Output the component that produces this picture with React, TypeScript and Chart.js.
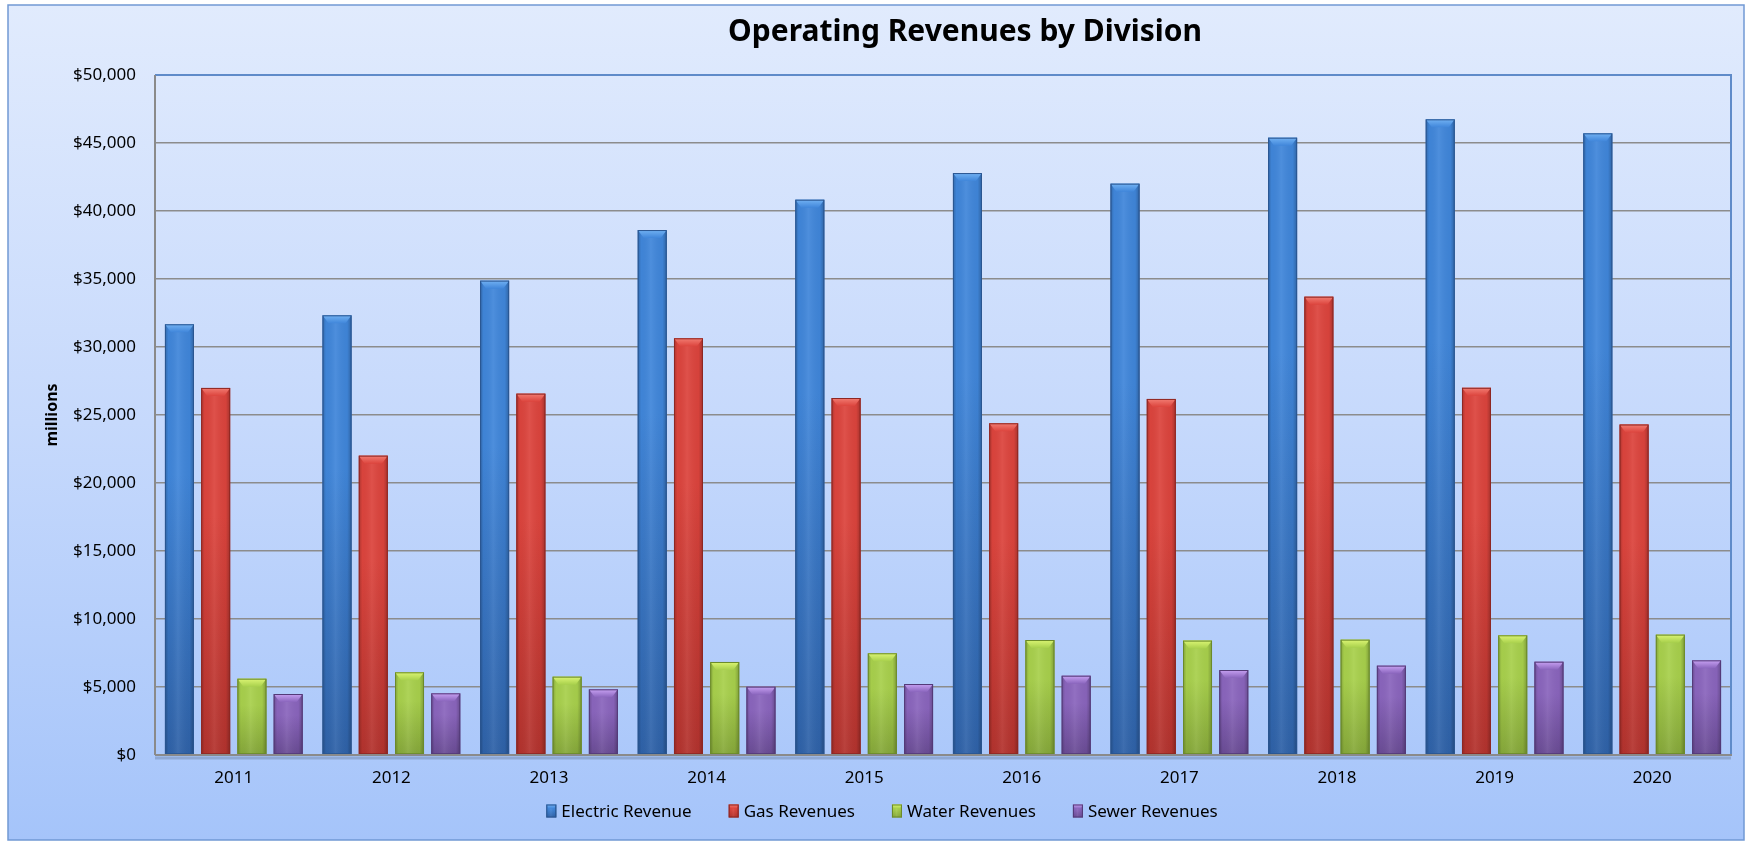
import React, { useEffect, useRef } from "react";
import { Chart, registerables } from "chart.js";

Chart.register(...registerables);

const years = ["2011", "2012", "2013", "2014", "2015", "2016", "2017", "2018", "2019", "2020"];
const electricRevenue = [31670, 32330, 34880, 38600, 40830, 42790, 42010, 45390, 46740, 45710];
const gasRevenues = [26990, 22010, 26570, 30640, 26250, 24390, 26180, 33700, 27000, 24300];
const waterRevenues = [5610, 6080, 5760, 6840, 7480, 8455, 8410, 8480, 8800, 8850];
const sewerRevenues = [4485, 4535, 4830, 5025, 5220, 5830, 6250, 6570, 6860, 6960];
const yTickValues = [0, 5000, 10000, 15000, 20000, 25000, 30000, 35000, 40000, 45000, 50000];
const seriesNames = ["Electric Revenue", "Gas Revenues", "Water Revenues", "Sewer Revenues"];

const palette = [
  { base: "#3a7bd3", top: "#4086da", bottom: "#2f62a8", bevel: "#72b2f3", edge: "#2a5590" },
  { base: "#d23d37", top: "#dc443d", bottom: "#b3332e", bevel: "#f27d73", edge: "#8e2723" },
  { base: "#9cc443", top: "#a8d04c", bottom: "#86a83a", bevel: "#dcf574", edge: "#6b8a2a" },
  { base: "#7c5aae", top: "#8a65bd", bottom: "#6a4c95", bevel: "#c8a2f3", edge: "#533a78" },
];

const FONT = '"Noto Sans", "Open Sans", sans-serif';

function drawBox(ctx: any, p: any, l: number, t: number, w: number, h: number, bvMax: number, inset: number) {
  const r = l + w;
  const b = t + h;
  const vg = ctx.createLinearGradient(0, t, 0, b);
  vg.addColorStop(0, p.top);
  vg.addColorStop(0.35, p.top);
  vg.addColorStop(1, p.bottom);
  ctx.fillStyle = vg;
  ctx.fillRect(l, t, w, h);
  const hg = ctx.createLinearGradient(l, 0, r, 0);
  hg.addColorStop(0, "rgba(0,0,0,0.22)");
  hg.addColorStop(0.12, "rgba(0,0,0,0.02)");
  hg.addColorStop(0.45, "rgba(255,255,255,0.07)");
  hg.addColorStop(0.85, "rgba(0,0,0,0.03)");
  hg.addColorStop(1, "rgba(0,0,0,0.25)");
  ctx.fillStyle = hg;
  ctx.fillRect(l, t, w, h);
  const bv = Math.min(bvMax, h / 2);
  const bg = ctx.createLinearGradient(0, t, 0, t + bv);
  bg.addColorStop(0, p.bevel);
  bg.addColorStop(1, p.top);
  ctx.fillStyle = bg;
  ctx.beginPath();
  ctx.moveTo(l, t);
  ctx.lineTo(r, t);
  ctx.lineTo(r - inset, t + bv);
  ctx.lineTo(l + inset, t + bv);
  ctx.closePath();
  ctx.fill();
  ctx.strokeStyle = p.edge;
  ctx.lineWidth = 1;
  ctx.strokeRect(l + 0.5, t + 0.5, w - 1, h - 1);
}

const decorPlugin = {
  id: "decor",
  beforeDraw(chart: any) {
    const { ctx, width, height } = chart;
    ctx.save();
    ctx.fillStyle = "#ffffff";
    ctx.fillRect(0, 0, width, height);
    const g = ctx.createLinearGradient(0, 5, 0, 840);
    g.addColorStop(0, "#e1ebfd");
    g.addColorStop(0.5, "#c6d9fc");
    g.addColorStop(1, "#a5c4fa");
    ctx.fillStyle = g;
    ctx.fillRect(8, 5, 1736, 835);
    ctx.strokeStyle = "#7199d4";
    ctx.lineWidth = 1.5;
    ctx.strokeRect(8, 5, 1736, 835);
    ctx.restore();
  },
  beforeDatasetsDraw(chart: any) {
    const { ctx, chartArea: a } = chart;
    ctx.save();
    ctx.strokeStyle = "#5f8bc9";
    ctx.lineWidth = 2;
    ctx.beginPath();
    ctx.moveTo(a.left, a.top);
    ctx.lineTo(a.right, a.top);
    ctx.lineTo(a.right, a.bottom);
    ctx.stroke();
    ctx.strokeStyle = "#8a8a8a";
    ctx.beginPath();
    ctx.moveTo(a.left, a.top);
    ctx.lineTo(a.left, a.bottom);
    ctx.stroke();
    ctx.restore();
  },
  afterDatasetsDraw(chart: any) {
    const { ctx, chartArea: a } = chart;
    ctx.save();
    chart.data.datasets.forEach((ds: any, di: number) => {
      const meta = chart.getDatasetMeta(di);
      const p = palette[di];
      meta.data.forEach((bar: any) => {
        const { x, y, base, width } = bar.getProps(["x", "y", "base", "width"], true);
        drawBox(ctx, p, x - width / 2, y, width, base - y, 8, 6);
      });
    });
    ctx.strokeStyle = "rgba(90,110,140,0.35)";
    ctx.lineWidth = 3;
    ctx.beginPath();
    ctx.moveTo(a.left, a.bottom + 3);
    ctx.lineTo(a.right, a.bottom + 3);
    ctx.stroke();
    ctx.strokeStyle = "#8a8a8a";
    ctx.lineWidth = 2;
    ctx.beginPath();
    ctx.moveTo(a.left, a.bottom);
    ctx.lineTo(a.right + 1, a.bottom);
    ctx.stroke();
    ctx.restore();
  },
  afterDraw(chart: any) {
    const { ctx, chartArea: a } = chart;
    ctx.save();
    ctx.fillStyle = "#000000";
    ctx.font = `bold 30px ${FONT}`;
    ctx.textAlign = "center";
    ctx.textBaseline = "alphabetic";
    ctx.fillText("Operating Revenues by Division", a.left + a.width * 0.514, 41);
    ctx.font = `17px ${FONT}`;
    ctx.textAlign = "left";
    ctx.textBaseline = "middle";
    const boxW = 10;
    const boxH = 13;
    const textGap = 5;
    const itemGap = 37;
    const items = chart.data.datasets.map((ds: any, i: number) => ({
      label: ds.label,
      p: palette[i],
      w: boxW + textGap + ctx.measureText(ds.label).width,
    }));
    const total = items.reduce((s: number, it: any) => s + it.w, 0) + itemGap * (items.length - 1);
    const cy = 811;
    let x = 882 - total / 2;
    items.forEach((it: any) => {
      drawBox(ctx, it.p, x, cy - boxH / 2, boxW, boxH, 4, 2);
      ctx.fillStyle = "#000000";
      ctx.fillText(it.label, x + boxW + textGap, cy + 1);
      x += it.w + itemGap;
    });
    ctx.restore();
  },
};

export default function App() {
  const canvasRef = useRef<HTMLCanvasElement | null>(null);

  useEffect(() => {
    document.body.style.margin = "0";
    const canvas = canvasRef.current;
    if (!canvas) return;
    const seriesData = [electricRevenue, gasRevenues, waterRevenues, sewerRevenues];
    const chart = new Chart(canvas, {
      type: "bar",
      data: {
        labels: years,
        datasets: seriesData.map((d, i) => ({
          label: seriesNames[i],
          data: d,
          backgroundColor: palette[i].base,
          borderColor: palette[i].edge,
          borderWidth: 1,
          categoryPercentage: 0.92,
          barPercentage: 0.8,
        })),
      },
      options: {
        responsive: false,
        animation: false,
        layout: { padding: { left: 0, right: 15, top: 75, bottom: 0 } },
        scales: {
          x: {
            grid: { display: false, drawTicks: false },
            border: { display: false },
            ticks: { color: "#000000", font: { family: FONT, size: 17 }, padding: 13 },
            afterFit: (s: any) => {
              s.height = 86;
            },
          },
          y: {
            min: 0,
            max: 50000,
            afterBuildTicks: (s: any) => {
              s.ticks = yTickValues.map((v) => ({ value: v }));
            },
            ticks: {
              color: "#000000",
              font: { family: FONT, size: 17 },
              padding: 19,
              callback: (v: any) => "$" + Number(v).toLocaleString("en-US"),
            },
            grid: { color: "#8c8c8c", lineWidth: 1.6, drawTicks: false },
            border: { display: false },
            title: {
              display: true,
              text: "millions",
              color: "#000000",
              font: { family: FONT, size: 16, weight: "bold" },
              padding: { top: 43, bottom: 0 },
            },
            afterFit: (s: any) => {
              s.width = 155;
            },
          },
        },
        plugins: {
          legend: { display: false },
          title: { display: false },
          tooltip: { enabled: false },
        },
      },
      plugins: [decorPlugin],
    } as any);
    return () => chart.destroy();
  }, []);

  return <canvas ref={canvasRef} width={1746} height={841} style={{ display: "block" }} />;
}
